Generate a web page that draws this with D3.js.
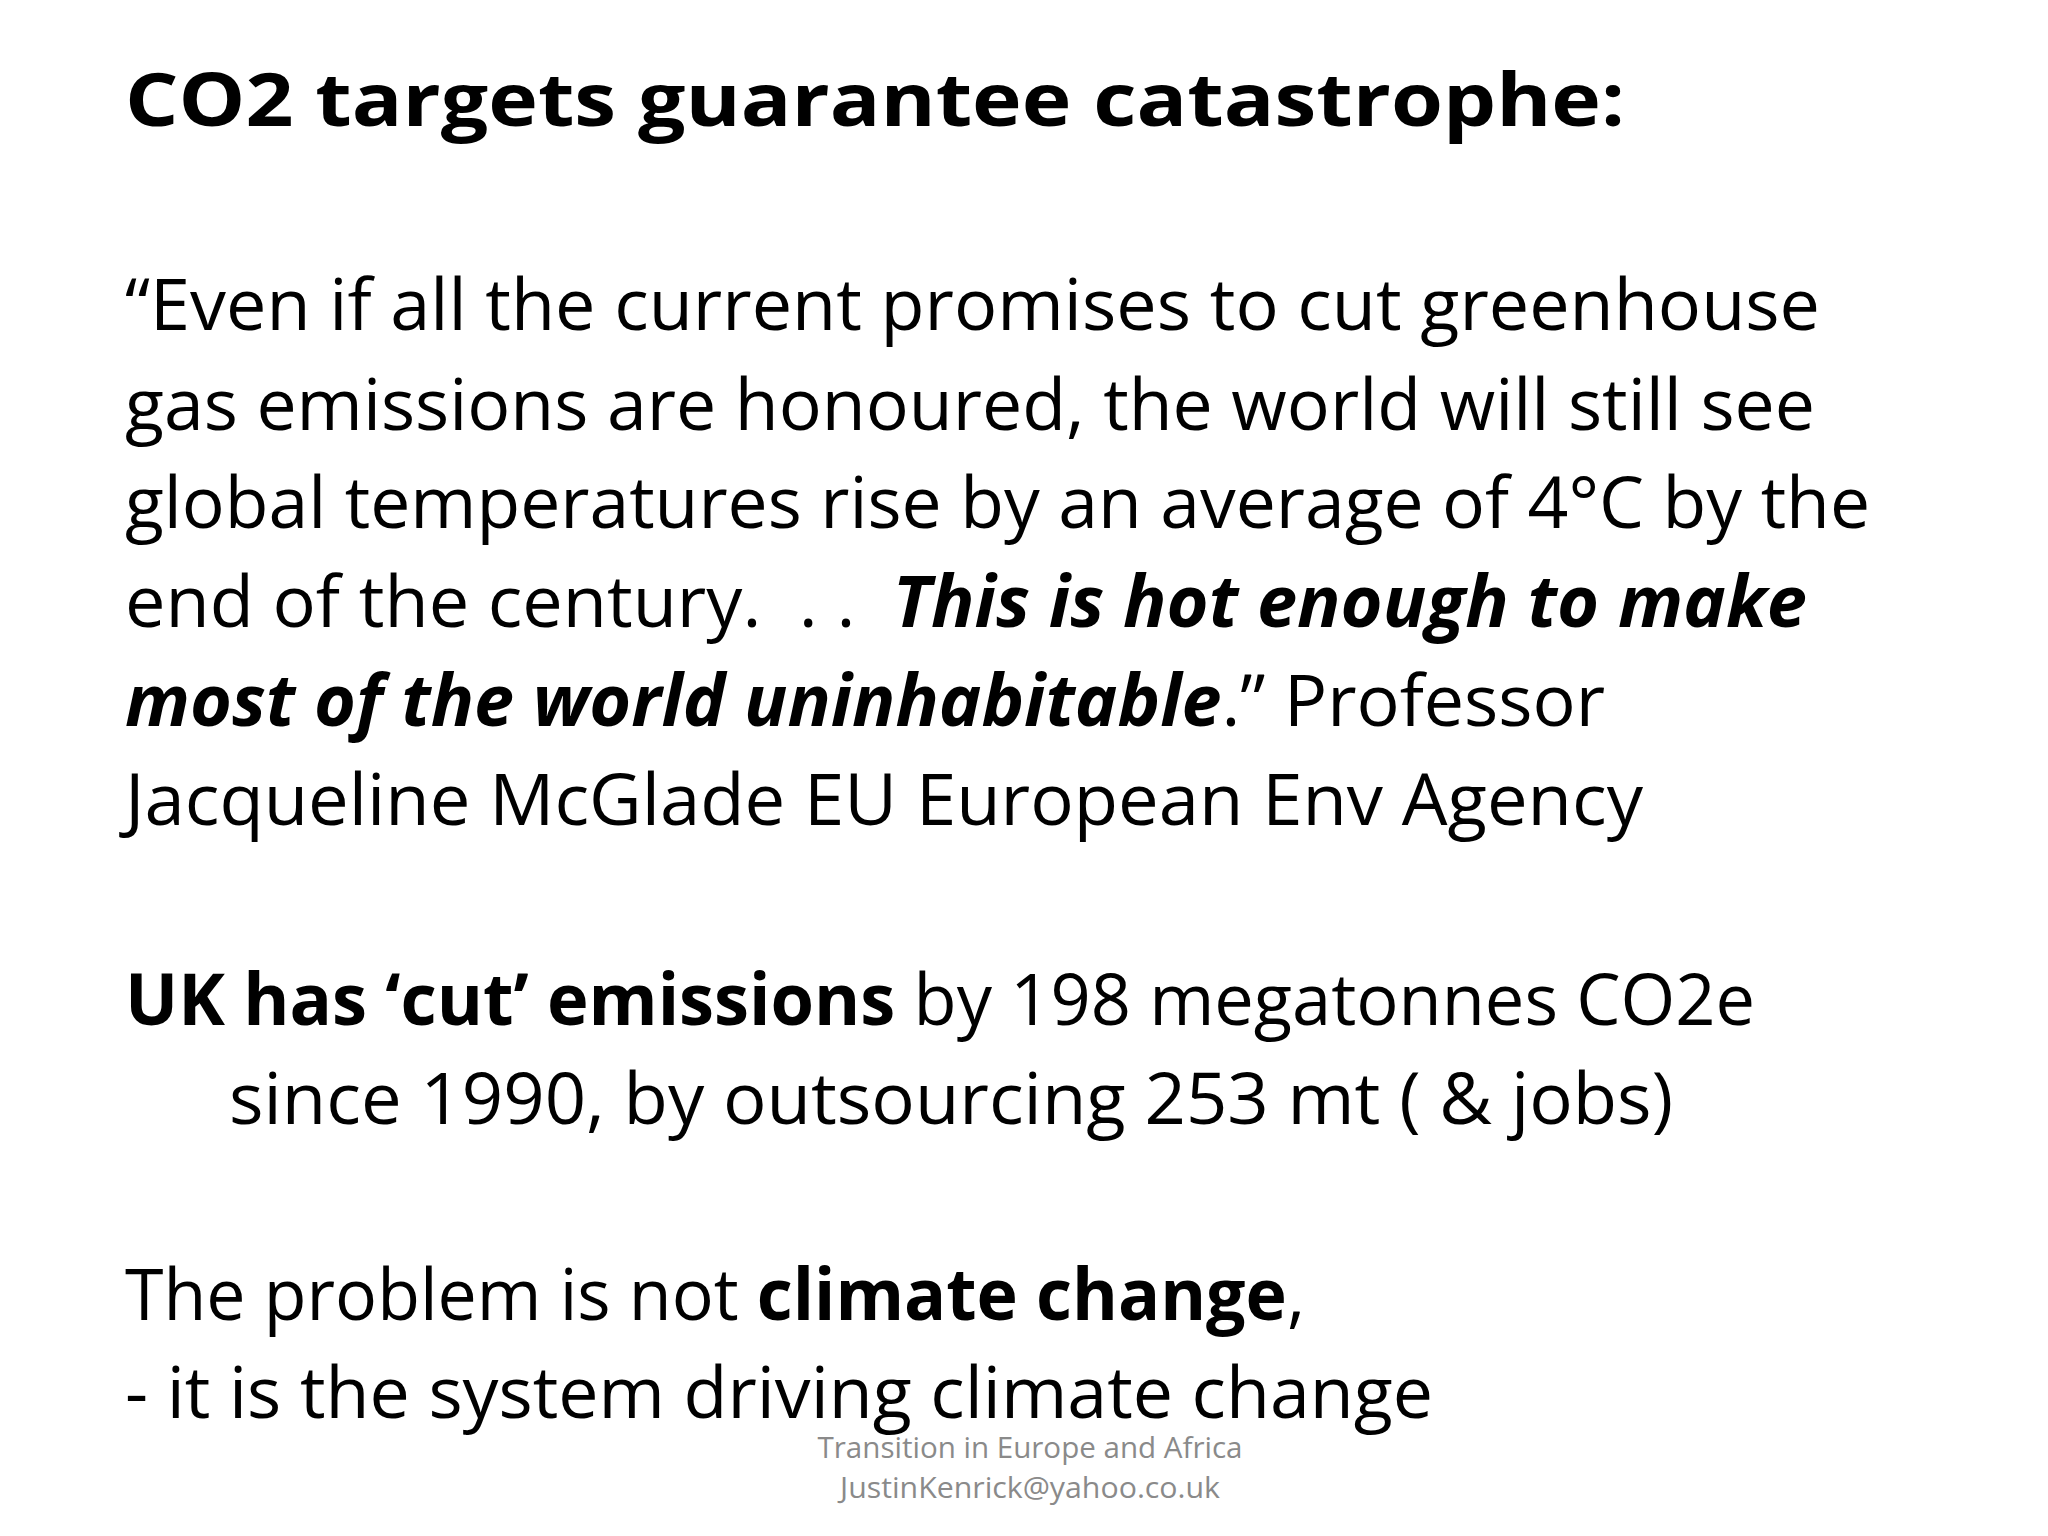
<!DOCTYPE html>
<html><head><meta charset="utf-8">
<script src="https://cdn.jsdelivr.net/npm/d3@7"></script>
<style>body{margin:0;background:#fff}</style></head>
<body><svg id="c" width="2048" height="1536"></svg>
<script>
// segments: [text, weight, style]
const titleLine = [["CO2 targets guarantee catastrophe:", "bold", "normal"]];
const quoteLines = [
  [["\u201cEven if all the current promises to cut greenhouse","normal","normal"]],
  [["gas emissions are honoured, the world will still see","normal","normal"]],
  [["global temperatures rise by an average of 4\u00b0C by the","normal","normal"]],
  [["end of the century.  . .  ","normal","normal"],["This is hot enough to make","bold","italic"]],
  [["most of the world uninhabitable","bold","italic"],[".\u201d Professor","normal","normal"]],
  [["Jacqueline McGlade EU European Env Agency","normal","normal"]]
];
const ukLines = [
  [["UK has \u2018cut\u2019 emissions","bold","normal"],[" by 198 megatonnes CO2e","normal","normal"]],
  [["since 1990, by outsourcing 253 mt ( & jobs)","normal","normal"]]
];
const problemLines = [
  [["The problem is not ","normal","normal"],["climate change","bold","normal"],[",","normal","normal"]],
  [["- it is the system driving climate change","normal","normal"]]
];
const footerLines = ["Transition in Europe and Africa","JustinKenrick@yahoo.co.uk"];

const svg = d3.select("#c");
const font = "'Open Sans', 'Noto Sans', sans-serif";
function draw(segs, x, y, size, width, anchor, fill){
  const t = svg.append("text").attr("x",x).attr("y",y).attr("font-family",font)
    .attr("font-size",size).attr("fill",fill||"#000").attr("text-anchor",anchor||"start")
    .attr("xml:space","preserve").style("white-space","pre");
  segs.forEach(s=>t.append("tspan").text(s[0]).attr("font-weight",s[1]).attr("font-style",s[2]));
  if(width) t.attr("textLength",width).attr("lengthAdjust","spacingAndGlyphs");
}
draw(titleLine,125,126,74,1500);
const qb=[330,430,528,627,726,825], qw=[1695,1690,1745,1682,1480,1518];
quoteLines.forEach((l,i)=>draw(l,125,qb[i],72,qw[i]));
draw(ukLines[0],125,1025,72,1630);
draw(ukLines[1],229,1124,72,1444);
draw(problemLines[0],125,1320,72,1180);
draw(problemLines[1],125,1418,72,1308);
draw([[footerLines[0],"normal","normal"]],1030,1458,30,425,"middle","#8a8a8a");
draw([[footerLines[1],"normal","normal"]],1030,1498,30,380,"middle","#8a8a8a");
</script></body></html>
